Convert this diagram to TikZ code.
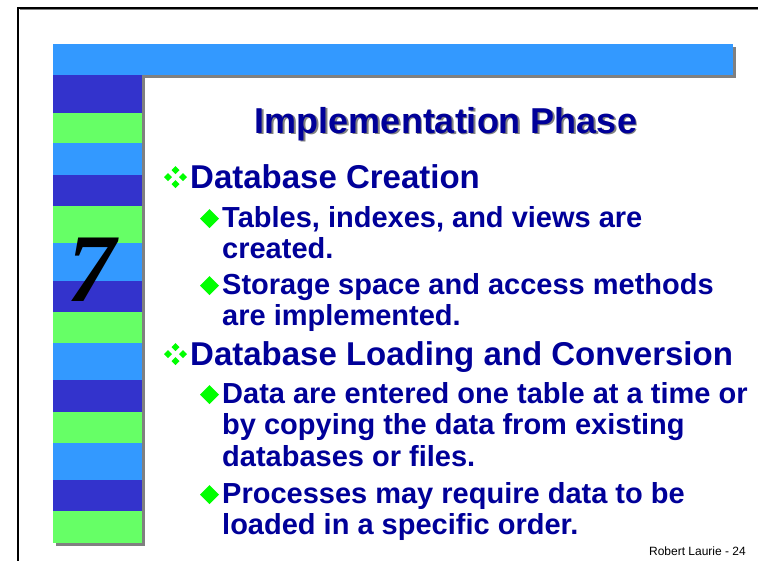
\documentclass[tikz,border=0pt]{standalone}
\usepackage{fontspec}
\setmainfont{Liberation Sans}
\newfontfamily\sevenfont{Liberation Serif}

\definecolor{barblue}{RGB}{51,153,255}
\definecolor{darkband}{RGB}{51,51,204}
\definecolor{greenband}{RGB}{102,255,102}
\definecolor{navy}{RGB}{0,0,153}
\definecolor{bulgreen}{RGB}{0,255,0}
\definecolor{shadowgray}{RGB}{128,128,128}

\tikzset{
  diam/.pic={\fill[bulgreen] (-1,0)--(0,-1)--(1,0)--(0,1)--cycle;},
  fourdiam/.pic={
    \fill[bulgreen] (-4,-7)--(0,-11)--(4,-7)--(0,-3)--cycle;
    \fill[bulgreen] (-11.5,0)--(-7.5,-4)--(-3.5,0)--(-7.5,4)--cycle;
    \fill[bulgreen] (3.5,0)--(7.5,-4)--(11.5,0)--(7.5,4)--cycle;
    \fill[bulgreen] (-4,7)--(0,3)--(4,7)--(0,11)--cycle;}
}

\begin{document}
\begin{tikzpicture}[x=1pt,y=-1pt,
    lvlone/.style={anchor=base west,inner sep=0,text=navy,
      font=\fontsize{33}{36}\selectfont\bfseries},
    lvltwo/.style={anchor=base west,inner sep=0,text=navy,align=flush left,
      text width=560pt,font=\fontsize{29}{31.5}\selectfont\bfseries}]
        \useasboundingbox (0,0) rectangle (758,560);
        \clip (0,0) rectangle (758,560);
        \fill[white] (0,0) rectangle (758,560);

        % frame
        \draw[shadowgray,line width=1pt](19.5,9.5)--(770,9.5);
        \draw[-,line width=2pt](18,570)--(18,8)--(770,8);

        % top bar and side column with shadow
        \fill[shadowgray](56,47) rectangle (736,78);
        \fill[shadowgray](56,78) rectangle (145,546);
        \fill[barblue](53,44) rectangle (733,75);
        \foreach \ya/\yb/\c in {75/113/darkband,113/143/greenband,143/175/barblue,
            175/206/darkband,206/243/greenband,243/281/barblue,281/312/darkband,
            312/343/greenband,343/380/barblue,380/412/darkband,412/443/greenband,
            443/480/barblue,480/511/darkband,511/543/greenband}
            \fill[\c](53,\ya) rectangle (142,\yb);

        \node[anchor=base west,inner sep=0,font=\fontsize{97}{97}\sevenfont\bfseries\itshape](seven) at (67,301){7};

        % title
        \node[anchor=base,inner sep=0,text=shadowgray,font=\fontsize{36}{36}\selectfont\bfseries](titleshadow) at (447.5,134.5){Implementation Phase};
        \node[anchor=base,inner sep=0,text=navy,font=\fontsize{36}{36}\selectfont\bfseries](title) at (446,133){Implementation Phase};

        % bullets
        \pic at (175.5,177) {fourdiam};
        \node[lvlone](creation) at (190,188){Database Creation};
        \pic[scale=9.5] at (209.5,218.5) {diam};
        \node[lvltwo](tables) at (222,227){Tables, indexes, and views are\\created.};
        \pic[scale=9.5] at (209.5,285.5) {diam};
        \node[lvltwo](storage) at (222,294){Storage space and access methods\\are implemented.};

        \pic at (175.5,354) {fourdiam};
        \node[lvlone](loading) at (190,365){Database Loading and Conversion};
        \pic[scale=9.5] at (209.5,394.5) {diam};
        \node[lvltwo](entered) at (222,403){Data are entered one table at a time or\\by copying the data from existing\\databases or files.};
        \pic[scale=9.5] at (209.5,494.5) {diam};
        \node[lvltwo](order) at (222,503){Processes may require data to be\\loaded in a specific order.};

        \node[anchor=base east,inner sep=0,font=\fontsize{12}{12}\selectfont](footer) at (746,555){Robert Laurie - 24};
    \end{tikzpicture}
\end{document}
